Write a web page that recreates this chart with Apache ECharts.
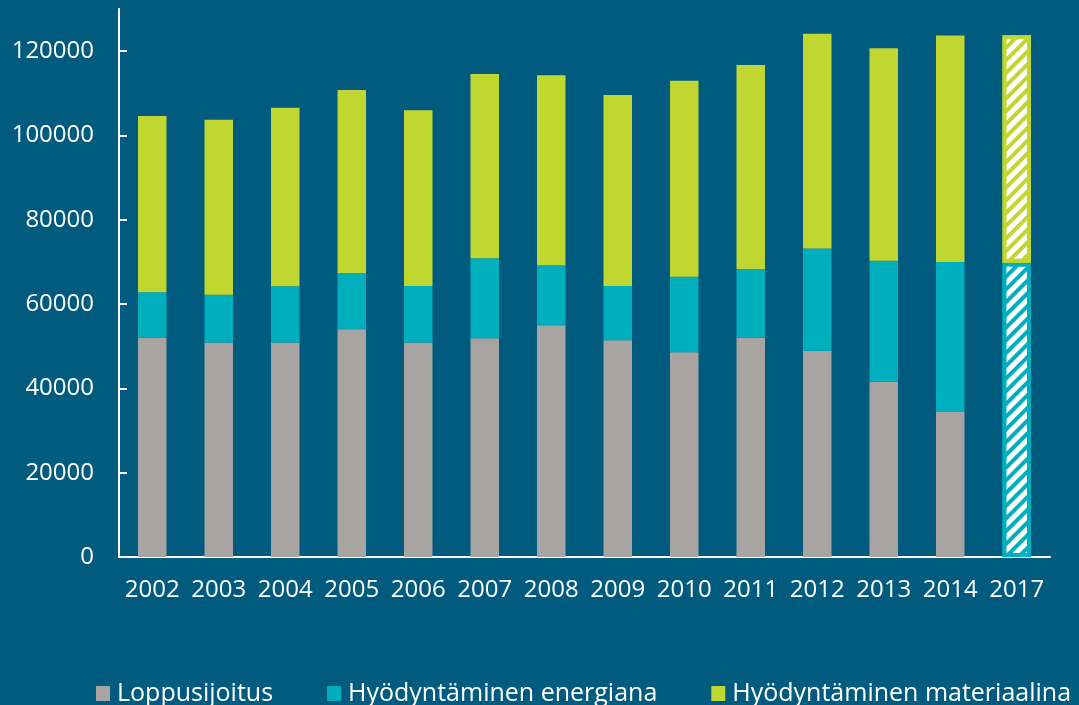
<!DOCTYPE html>
<html>
<head>
<meta charset="utf-8">
<script src="https://cdn.jsdelivr.net/npm/echarts@6/dist/echarts.min.js"></script>
<style>
  html, body { margin: 0; padding: 0; background: #005b7f; }
  #chart { width: 1079px; height: 705px; }
</style>
</head>
<body>
<div id="chart"></div>
<script>
// vuodet
const years = ['2002', '2003', '2004', '2005', '2006', '2007', '2008', '2009', '2010', '2011', '2012', '2013', '2014', '2017'];
// sarjat (pinottu)
const loppusijoitus = [52000, 50900, 50900, 54000, 50900, 51900, 55000, 51400, 48600, 52000, 48900, 41600, 34400, 0];
const energiana = [10800, 11300, 13300, 13400, 13400, 19000, 14200, 12900, 17900, 16300, 24300, 28700, 35600, 69800];
const materiaalina = [41800, 41500, 42400, 43400, 41700, 43700, 45100, 45300, 46500, 48400, 50900, 50400, 53700, 54000];
const yTicks = [0, 20000, 40000, 60000, 80000, 100000, 120000];
const targetYear = '2017'; // tavoite, viivoitettu

const GRAY = '#a8a4a2';
const TEAL = '#00afbd';
const GREEN = '#c0d731';

// tavoitepylväs: reunus + valkoinen viivoitus
function withTarget(values, color) {
    return values.map((v, i) => {
        if (years[i] !== targetYear) return v;
        return {
            value: v,
            itemStyle: {
                color: color,
                borderColor: color,
                borderWidth: 4,
                decal: {
                    symbol: 'rect',
                    symbolSize: 1,
                    dashArrayX: [1, 0],
                    dashArrayY: [5, 4],
                    rotation: -Math.PI / 4,
                    color: '#ffffff'
                }
            }
        };
    });
}

var chart = echarts.init(document.getElementById('chart'));

const option = {
    backgroundColor: '#005b7f',
    animation: false,
    textStyle: { fontFamily: 'Open Sans' },
    grid: { left: 119, right: 29, top: 9, bottom: 148 },
    legend: {
        left: 91,
        top: 676,
        itemWidth: 14,
        itemHeight: 15,
        itemGap: 54,
        icon: 'rect',
        textStyle: { color: '#ffffff', fontSize: 25, fontFamily: 'Open Sans', padding: [0, 0, 0, 2] },
        data: ['Loppusijoitus', 'Hyödyntäminen energiana', 'Hyödyntäminen materiaalina']
    },
    xAxis: {
        type: 'category',
        data: years,
        axisLine: { lineStyle: { color: '#ffffff', width: 2 } },
        axisTick: { show: false },
        axisLabel: { color: '#ffffff', fontSize: 24, margin: 21, interval: 0 }
    },
    yAxis: {
        type: 'value',
        min: 0,
        max: 130000,
        interval: 20000,
        splitLine: { show: false },
        axisLine: { show: true, lineStyle: { color: '#ffffff', width: 2 } },
        axisTick: { show: true, inside: true, length: 8, customValues: yTicks, lineStyle: { color: '#ffffff', width: 2 } },
        axisLabel: {
            color: '#ffffff', fontSize: 24, margin: 25, customValues: yTicks,
            formatter: function (v) { return String(v); }
        }
    },
    series: [
        {
            name: 'Loppusijoitus',
            type: 'bar',
            stack: 'total',
            barWidth: 28.5,
            itemStyle: { color: GRAY },
            data: loppusijoitus
        },
        {
            name: 'Hyödyntäminen energiana',
            type: 'bar',
            stack: 'total',
            barWidth: 28.5,
            itemStyle: { color: TEAL },
            data: withTarget(energiana, TEAL)
        },
        {
            name: 'Hyödyntäminen materiaalina',
            type: 'bar',
            stack: 'total',
            barWidth: 28.5,
            itemStyle: { color: GREEN },
            data: withTarget(materiaalina, GREEN)
        }
    ]
};

chart.setOption(option);
</script>
</body>
</html>
